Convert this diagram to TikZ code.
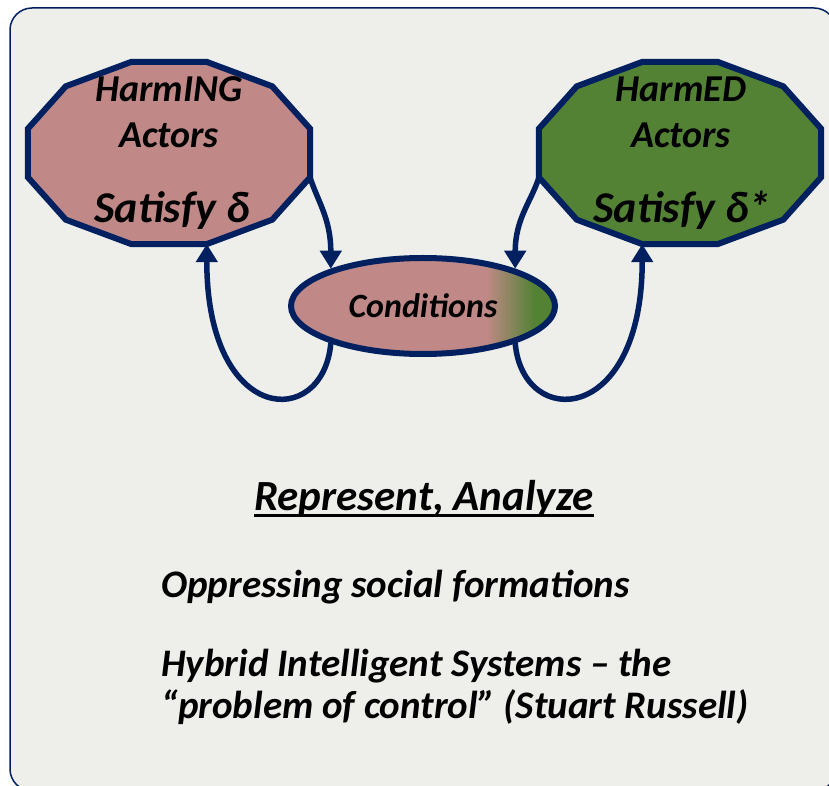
\documentclass[tikz,border=0pt]{standalone}
\usepackage{fontspec}
\setmainfont{Carlito}
\usetikzlibrary{shapes.geometric,arrows.meta}
\definecolor{harmpink}{RGB}{192,137,135}
\definecolor{harmgreen}{RGB}{84,130,53}
\definecolor{navy}{RGB}{0,32,96}
\definecolor{paper}{RGB}{238,238,234}
\pgfdeclarehorizontalshading{condfade}{100bp}{color(0bp)=(harmpink); color(62bp)=(harmpink); color(71bp)=(harmgreen); color(100bp)=(harmgreen)}
\newcommand{\thickul}[1]{\setbox0\hbox{#1}\rlap{\rule[-7pt]{\wd0}{3pt}}\box0}

\begin{document}
\begin{tikzpicture}[x=1pt,y=1pt,
    actor/.style={draw=navy, line width=6pt, line join=miter},
    loopback/.style={draw=navy, line width=5.5pt, -{Triangle[length=18pt,width=21pt]}},
    actorname/.style={font=\bfseries\itshape\fontsize{38}{44}\selectfont, anchor=base, inner sep=0pt},
    goal/.style={font=\bfseries\itshape\fontsize{44}{50}\selectfont, anchor=base, inner sep=0pt},
    body/.style={font=\bfseries\itshape\fontsize{39}{42}\selectfont, inner sep=0pt}]
\useasboundingbox (0,0) rectangle (829,785);
\draw[navy, line width=1.5pt, fill=paper, rounded corners=22pt] (10,777) rectangle (836,-6);

% the two groups of actors
\begin{scope}[shift={(169,632)}]
  \draw[actor, fill=harmpink] (15:146 and 94.3)
    \foreach \a in {45,75,...,345} { -- (\a:146 and 94.3) coordinate (harming-\a) } -- cycle;
\end{scope}
\begin{scope}[shift={(680,632)}]
  \draw[actor, fill=harmgreen] (15:146 and 94.3)
    \foreach \a in {45,75,...,345} { -- (\a:146 and 94.3) coordinate (harmed-\a) } -- cycle;
\end{scope}

\node[actorname] (harming-name) at (169,683) {HarmING};
\node[actorname] (harming-role) at (169,637) {Actors};
\node[goal] (harming-goal) at (172,562) {Satisfy δ};
\node[actorname] (harmed-name) at (681,683) {HarmED};
\node[actorname] (harmed-role) at (681,637) {Actors};
\node[goal] (harmed-goal) at (682,562) {Satisfy δ*};

% conditions in between
\node[ellipse, draw=navy, line width=6pt, shading=condfade, minimum width=264pt, minimum height=96pt,
      inner sep=0pt, font=\bfseries\itshape\fontsize{34}{40}\selectfont] (cond) at (423,479) {Conditions};

\draw[loopback] (harming-345) .. controls +(-72:26) and +(90:50) .. (cond.158);
\draw[loopback] (cond.202) .. controls +(-95:87) and +(-90:182) .. (harming-285);
\draw[loopback] (harmed-195) .. controls +(-108:26) and +(90:50) .. (cond.22);
\draw[loopback] (cond.-22) .. controls +(-85:87) and +(-90:182) .. (harmed-255);

% text below
\node[body, anchor=base, font=\bfseries\itshape\fontsize{43}{48}\selectfont] (title) at (424,275) {\thickul{Represent, Analyze}};
\node[body, anchor=base west] (oppress) at (161,188) {Oppressing social formations};
\node[body, anchor=north west, align=left] (hybrid) at (161,136) {Hybrid Intelligent Systems – the\\“problem of control” (Stuart Russell)};
\end{tikzpicture}
\end{document}
